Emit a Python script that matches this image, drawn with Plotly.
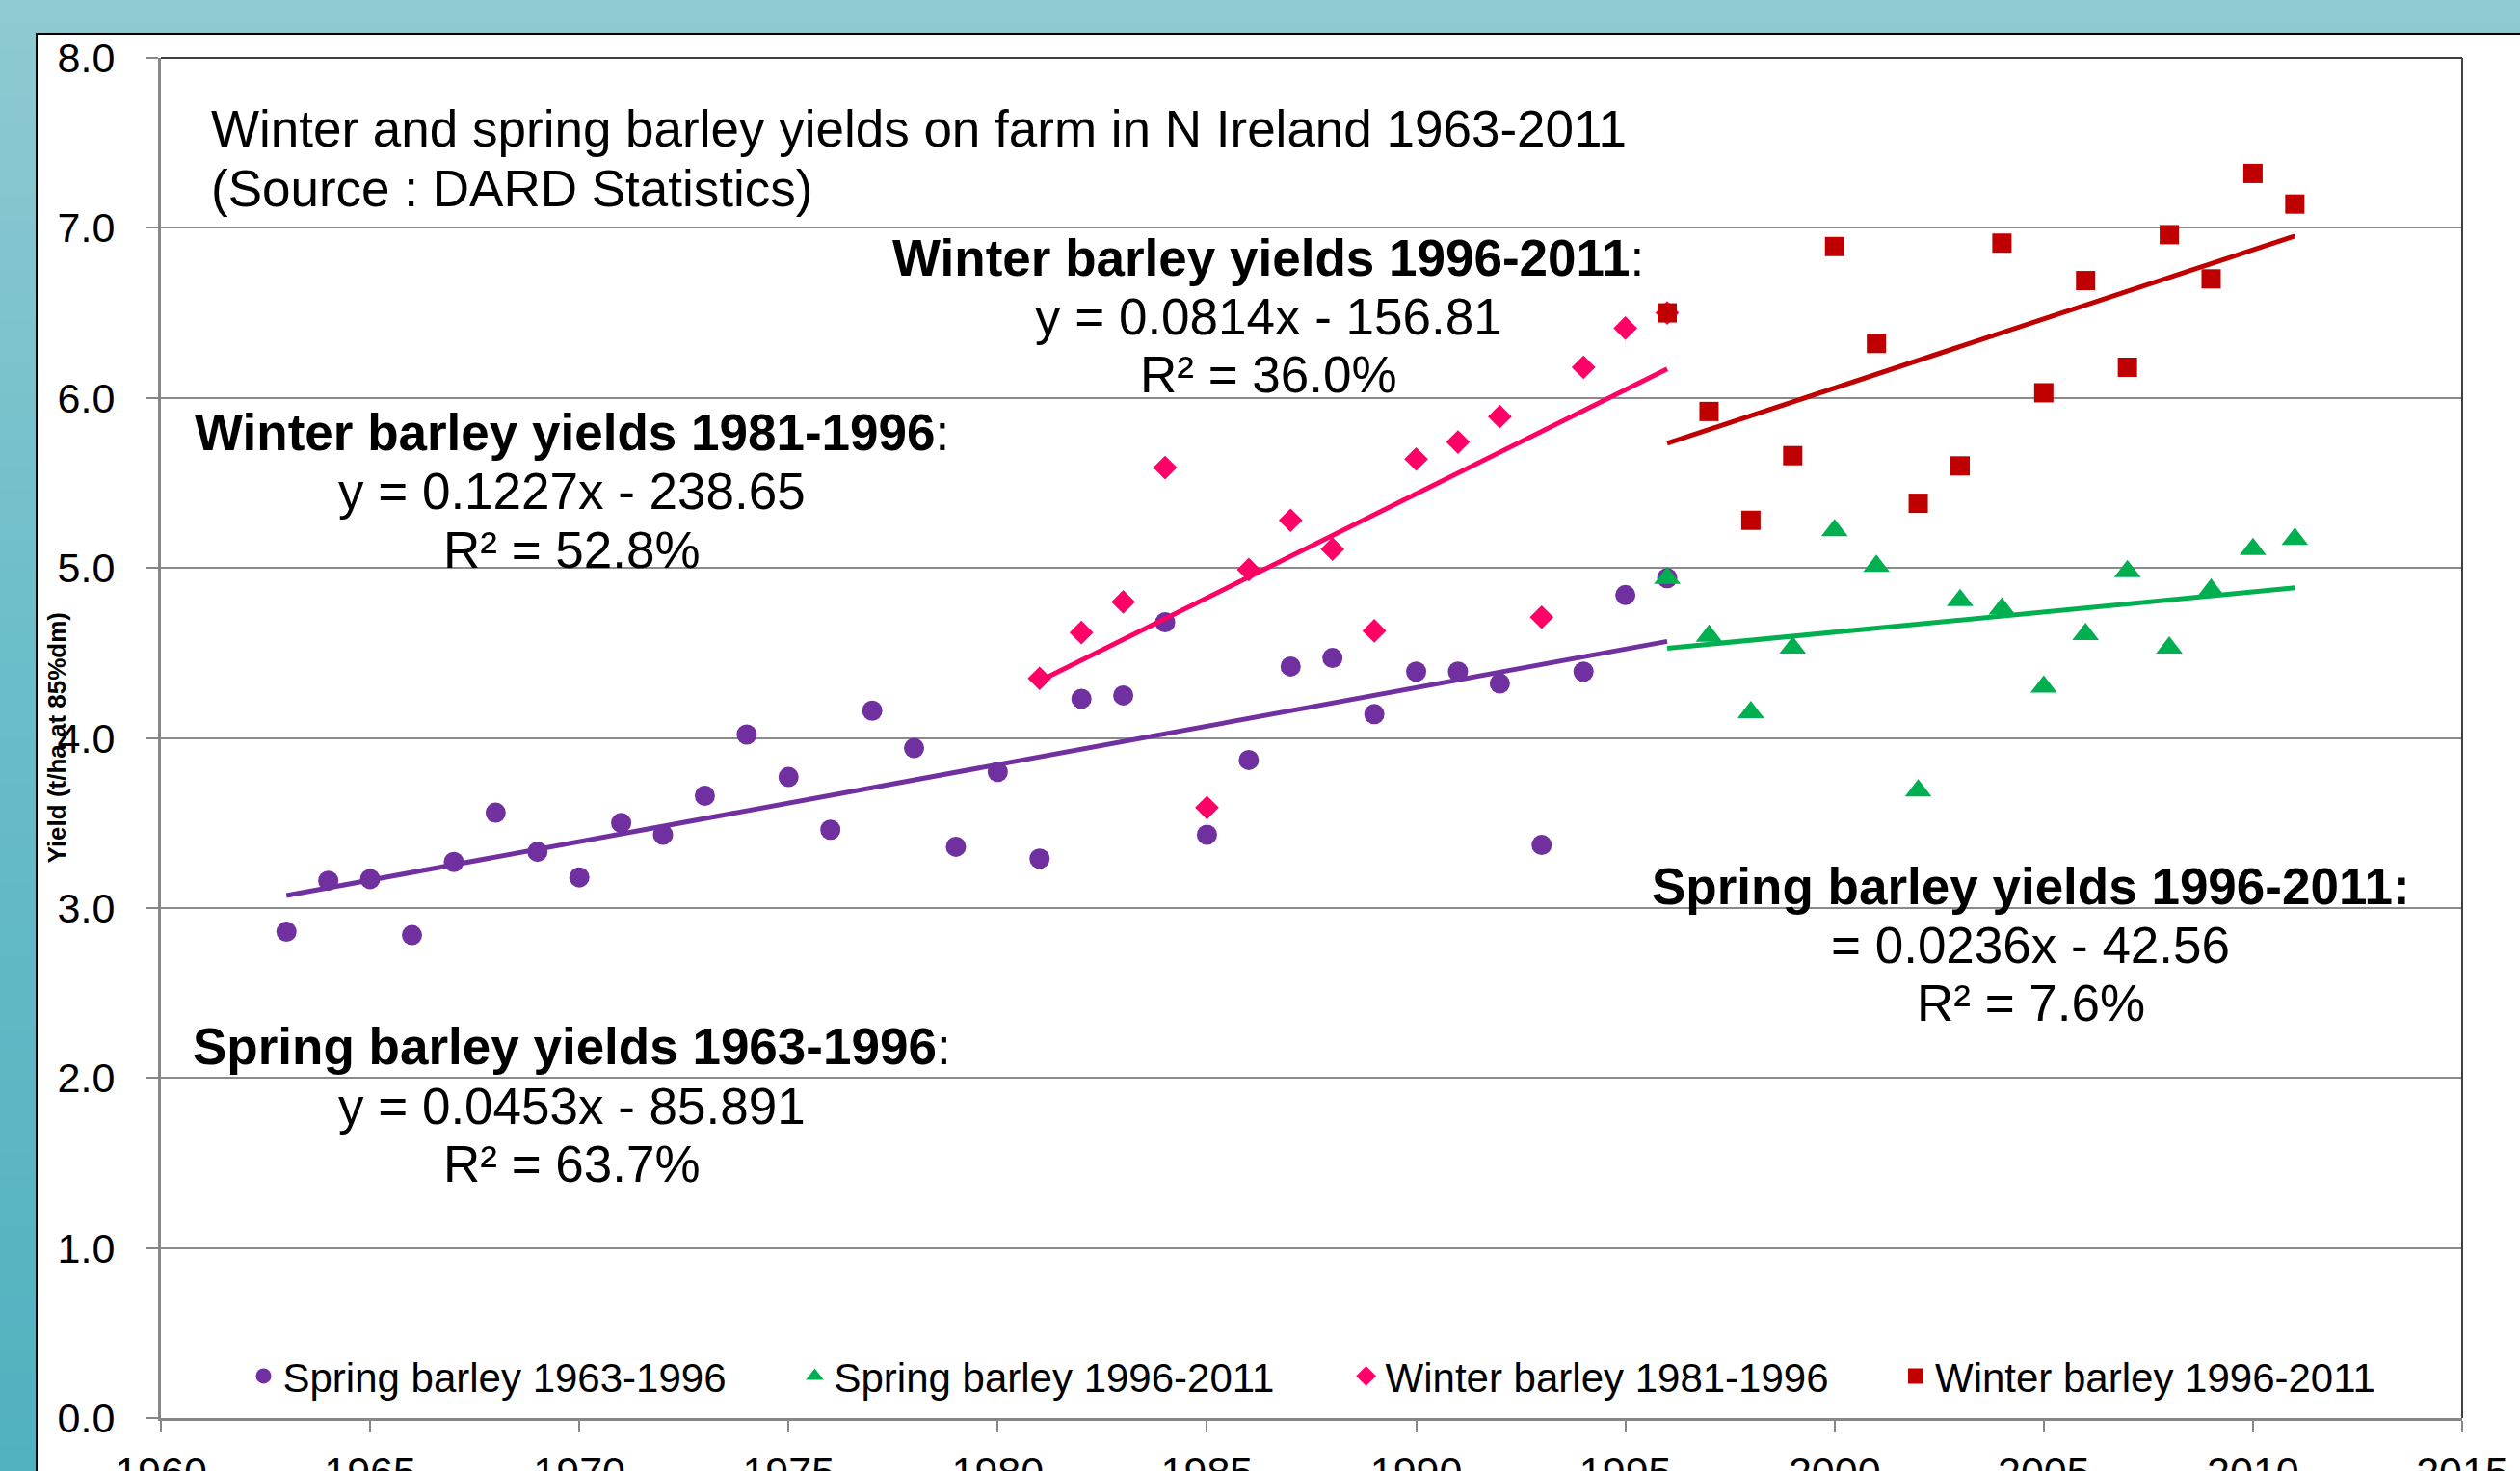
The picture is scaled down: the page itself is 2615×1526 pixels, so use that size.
import numpy as np
import plotly.graph_objects as go

# ---------------- data ----------------
spring_early_years = list(range(1963, 1997))
spring_early_yield = [2.86, 3.16, 3.17, 2.84, 3.27, 3.56, 3.33, 3.18, 3.50, 3.43,
                      3.66, 4.02, 3.77, 3.46, 4.16, 3.94, 3.36, 3.80, 3.29, 4.23,
                      4.25, 4.68, 3.43, 3.87, 4.42, 4.47, 4.14, 4.39, 4.39, 4.32,
                      3.37, 4.39, 4.84, 4.94]

spring_late_years = list(range(1996, 2012))
spring_late_yield = [4.94, 4.60, 4.15, 4.53, 5.22, 5.01, 3.69, 4.81, 4.76, 4.30,
                     4.61, 4.98, 4.53, 4.87, 5.11, 5.17]

winter_early_years = list(range(1981, 1997))
winter_early_yield = [4.35, 4.62, 4.80, 5.59, 3.59, 4.99, 5.28, 5.11, 4.63, 5.64,
                      5.74, 5.89, 4.71, 6.18, 6.41, 6.50]

winter_late_years = list(range(1996, 2012))
winter_late_yield = [6.50, 5.92, 5.28, 5.66, 6.89, 6.32, 5.38, 5.60, 6.91, 6.03,
                     6.69, 6.18, 6.96, 6.70, 7.32, 7.14]

series_names = ["Spring barley 1963-1996", "Spring barley 1996-2011",
                "Winter barley 1981-1996", "Winter barley 1996-2011"]

x_ticks = list(range(1960, 2016, 5))
y_ticks = list(range(0, 9))

title_lines = ["Winter and spring barley yields on farm in N Ireland 1963-2011",
               "(Source : DARD Statistics)"]
eq_blocks = [
    ["<b>Winter barley yields 1996-2011</b>:", "y = 0.0814x - 156.81", "R\u00b2 = 36.0%"],
    ["<b>Winter barley yields 1981-1996</b>:", "y = 0.1227x - 238.65", "R\u00b2 = 52.8%"],
    ["<b>Spring barley yields 1996-2011:</b>", "= 0.0236x - 42.56", "R\u00b2 = 7.6%"],
    ["<b>Spring barley yields 1963-1996</b>:", "y = 0.0453x - 85.891", "R\u00b2 = 63.7%"],
]

# ---------------- style ----------------
W, H = 2615, 1526
L, R, T, B = 167, 60, 60, 55
PW, PH = W - L - R, H - T - B
FONT = "Liberation Sans, Arial, sans-serif"
colors = ["#7030A0", "#00B050", "#FF0066", "#C00000"]
symbols = ["circle", "triangle-up", "diamond", "square"]
msizes = [21, 24, 19, 20]
GRID = "#8a8a8a"


def px_to_paper_x(px):
    return (px - L) / PW


def px_to_paper_y(py):
    return (H - B - py) / PH


fig = go.Figure()

datasets = [(spring_early_years, spring_early_yield),
            (spring_late_years, spring_late_yield),
            (winter_early_years, winter_early_yield),
            (winter_late_years, winter_late_yield)]
legend_ids = ["legend", "legend2", "legend3", "legend4"]

for i, (xs, ys) in enumerate(datasets):
    fig.add_trace(go.Scatter(
        x=xs, y=ys, mode="markers", name=series_names[i],
        marker=dict(symbol=symbols[i], size=msizes[i], color=colors[i], line=dict(width=0)),
        legend=legend_ids[i], showlegend=True))

for i, (xs, ys) in enumerate(datasets):
    k, c = np.polyfit(np.array(xs, float), np.array(ys, float), 1)
    xe = np.array([xs[0], xs[-1]], float)
    fig.add_trace(go.Scatter(
        x=xe, y=k * xe + c, mode="lines", showlegend=False, hoverinfo="skip",
        line=dict(color=colors[i], width=5)))

# ---------------- background shapes ----------------
shapes = []
stops = [(0, (0x90, 0xC9, 0xD1)), (600, (0x6F, 0xBF, 0xCA)),
         (950, (0x62, 0xB9, 0xC5)), (1526, (0x52, 0xB1, 0xBF))]


def grad(py):
    for (y0, c0), (y1, c1) in zip(stops[:-1], stops[1:]):
        if y0 <= py <= y1:
            t = (py - y0) / (y1 - y0)
            return "rgb(%d,%d,%d)" % tuple(round(a + (b - a) * t) for a, b in zip(c0, c1))
    return "rgb(%d,%d,%d)" % stops[-1][1]


n = 60
step = H / n
for k in range(n):
    ya, yb = k * step, (k + 1) * step + 1
    shapes.append(dict(type="rect", xref="paper", yref="paper", layer="below",
                       x0=px_to_paper_x(-10), x1=px_to_paper_x(W + 10),
                       y0=px_to_paper_y(yb), y1=px_to_paper_y(ya),
                       fillcolor=grad((ya + yb) / 2), line=dict(width=0)))
# white chart box
shapes.append(dict(type="rect", xref="paper", yref="paper", layer="below",
                   x0=px_to_paper_x(38), x1=px_to_paper_x(W + 20),
                   y0=px_to_paper_y(H + 20), y1=px_to_paper_y(35),
                   fillcolor="white", line=dict(color="black", width=2)))
# plot-area top / right border
shapes.append(dict(type="line", xref="paper", yref="paper", layer="above",
                   x0=0, x1=1, y0=1, y1=1, line=dict(color="#404040", width=2)))
shapes.append(dict(type="line", xref="paper", yref="paper", layer="above",
                   x0=1, x1=1, y0=0, y1=1, line=dict(color="#404040", width=2)))

# ---------------- annotations ----------------
ann = []
title_pos_y = [133.5, 195]
for txt, py in zip(title_lines, title_pos_y):
    ann.append(dict(text=txt, xref="paper", yref="paper", x=px_to_paper_x(217),
                    y=px_to_paper_y(py), xanchor="left", yanchor="middle",
                    showarrow=False, font=dict(size=53, color="black", family=FONT)))

block_x = [1316, 593, 2107, 593]
block_y = [[267, 328.5, 388.6], [448.6, 510, 570], [919, 980.6, 1040.7], [1085.7, 1147.4, 1207.4]]
for lines, bx, bys in zip(eq_blocks, block_x, block_y):
    for j, (txt, py) in enumerate(zip(lines, bys)):
        ann.append(dict(text=txt, xref="paper", yref="paper", x=px_to_paper_x(bx),
                        y=px_to_paper_y(py), xanchor="center", yanchor="middle",
                        showarrow=False,
                        font=dict(size=53, color="black", family=FONT)))

ann.append(dict(text="<b>Yield (t/ha at 85%dm)</b>", xref="paper", yref="paper",
                x=px_to_paper_x(58), y=px_to_paper_y(765.5), textangle=-90,
                xanchor="center", yanchor="middle", showarrow=False,
                font=dict(size=26, color="black", family=FONT)))

# ---------------- legends ----------------
legend_text_start = [293.5, 865.5, 1437.6, 2008]
legends = {}
for lid, ts in zip(legend_ids, legend_text_start):
    legends[lid] = dict(orientation="h", x=px_to_paper_x(ts - 40), y=px_to_paper_y(1427.6),
                        xanchor="left", yanchor="middle", bgcolor="rgba(0,0,0,0)",
                        borderwidth=0, font=dict(size=42, color="black", family=FONT))

fig.update_layout(
    width=W, height=H, autosize=False,
    margin=dict(l=L, r=R, t=T, b=B, pad=0),
    paper_bgcolor="white", plot_bgcolor="white",
    font=dict(family=FONT, color="black"),
    shapes=shapes, annotations=ann,
    **legends,
)
fig.update_xaxes(range=[1960, 2015], tickvals=x_ticks, ticktext=[str(v) for v in x_ticks],
                 showgrid=False, zeroline=False, showline=True, linecolor="#878787",
                 linewidth=3, ticks="outside", ticklen=12, tickwidth=2, tickcolor="#878787",
                 tickfont=dict(size=43, family=FONT, color="black"), ticklabelstandoff=4,
                 automargin=False, fixedrange=True)
fig.update_yaxes(range=[0, 8], tickvals=y_ticks, ticktext=["%.1f" % v for v in y_ticks],
                 showgrid=True, gridcolor=GRID, gridwidth=2, zeroline=False,
                 showline=True, linecolor="#878787", linewidth=3, ticks="outside",
                 ticklen=12, tickwidth=2, tickcolor="#878787",
                 tickfont=dict(size=43, family=FONT, color="black"), ticklabelstandoff=24,
                 automargin=False, fixedrange=True)

fig.write_html("out.html", config={"displayModeBar": False},
               post_script="document.body.style.margin='0px';document.body.style.overflow='hidden';")
